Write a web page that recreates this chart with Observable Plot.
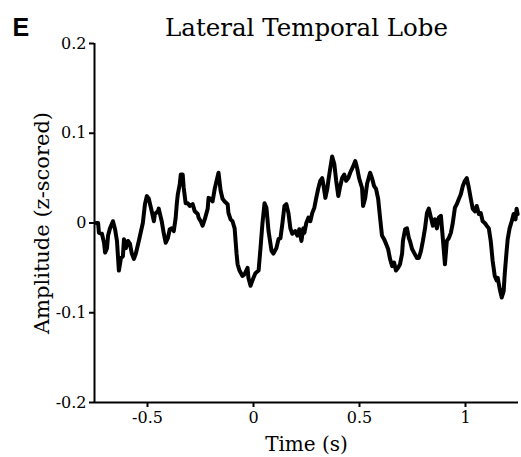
<!DOCTYPE html>
<html>
<head>
<meta charset="utf-8">
<script src="https://cdn.jsdelivr.net/npm/d3@7"></script>
<script src="https://cdn.jsdelivr.net/npm/@observablehq/plot@0.6"></script>
<style>
  body { margin: 0; background: #fff; }
</style>
</head>
<body>
<div id="chart"></div>
<script>
// Averaged evoked response, lateral temporal lobe (time in s, z-scored amplitude)
const time = [
  -0.743, -0.733, -0.729, -0.715, -0.705, -0.700, -0.691, -0.686, -0.677, -0.663,
  -0.653, -0.644, -0.635, -0.625, -0.616, -0.611, -0.602, -0.592, -0.583, -0.574,
  -0.564, -0.555, -0.541, -0.522, -0.512, -0.503, -0.494, -0.480, -0.470, -0.465,
  -0.451, -0.447, -0.433, -0.423, -0.414, -0.404, -0.395, -0.386, -0.376, -0.367,
  -0.362, -0.357, -0.348, -0.343, -0.334, -0.329, -0.320, -0.310, -0.301, -0.287,
  -0.277, -0.263, -0.259, -0.249, -0.240, -0.230, -0.216, -0.212, -0.202, -0.193,
  -0.183, -0.174, -0.165, -0.155, -0.146, -0.136, -0.122, -0.118, -0.108, -0.099,
  -0.089, -0.080, -0.075, -0.066, -0.052, -0.042, -0.028, -0.024, -0.014, -0.005,
  0.000, 0.009, 0.024, 0.033, 0.042, 0.052, 0.061, 0.071, 0.085, 0.094,
  0.108, 0.118, 0.127, 0.136, 0.146, 0.155, 0.165, 0.174, 0.183, 0.197,
  0.207, 0.216, 0.226, 0.235, 0.240, 0.249, 0.259, 0.268, 0.277, 0.287,
  0.296, 0.306, 0.315, 0.324, 0.329, 0.339, 0.348, 0.353, 0.362, 0.371,
  0.381, 0.390, 0.400, 0.409, 0.418, 0.428, 0.437, 0.447, 0.456, 0.470,
  0.480, 0.489, 0.498, 0.512, 0.517, 0.527, 0.536, 0.550, 0.559, 0.569,
  0.578, 0.588, 0.597, 0.606, 0.616, 0.625, 0.635, 0.644, 0.654, 0.663,
  0.672, 0.682, 0.691, 0.701, 0.705, 0.715, 0.724, 0.733, 0.738, 0.748,
  0.757, 0.771, 0.780, 0.790, 0.799, 0.809, 0.818, 0.827, 0.837, 0.846,
  0.856, 0.865, 0.874, 0.884, 0.893, 0.903, 0.912, 0.921, 0.931, 0.940,
  0.950, 0.959, 0.969, 0.978, 0.987, 0.997, 1.006, 1.016, 1.025, 1.034,
  1.044, 1.053, 1.063, 1.072, 1.081, 1.091, 1.100, 1.110, 1.119, 1.128,
  1.138, 1.147, 1.152, 1.161, 1.171, 1.180, 1.185, 1.194, 1.199, 1.208,
  1.218, 1.227, 1.236, 1.241, 1.246
];
const amplitude = [
  0.000, 0.000, -0.011, -0.012, -0.022, -0.033, -0.028, -0.014, -0.006, 0.002,
  -0.007, -0.020, -0.053, -0.039, -0.037, -0.018, -0.028, -0.020, -0.023, -0.034,
  -0.040, -0.034, -0.020, 0.000, 0.021, 0.030, 0.027, 0.013, 0.002, 0.010,
  0.013, 0.016, 0.002, -0.012, -0.022, -0.017, -0.007, -0.006, -0.009, 0.006,
  0.021, 0.032, 0.043, 0.054, 0.054, 0.039, 0.022, 0.022, 0.019, 0.021,
  0.013, 0.010, 0.006, 0.002, -0.003, 0.004, 0.016, 0.028, 0.027, 0.024,
  0.038, 0.047, 0.056, 0.036, 0.027, 0.024, 0.021, 0.011, 0.004, 0.002,
  -0.006, -0.034, -0.046, -0.053, -0.059, -0.057, -0.050, -0.061, -0.070, -0.064,
  -0.061, -0.056, -0.053, -0.028, -0.001, 0.022, 0.017, -0.009, -0.031, -0.034,
  -0.028, -0.018, -0.017, -0.001, 0.019, 0.021, 0.011, -0.006, -0.012, -0.009,
  -0.014, -0.007, -0.020, -0.006, -0.011, 0.000, 0.006, 0.002, 0.011, 0.017,
  0.028, 0.039, 0.047, 0.050, 0.044, 0.028, 0.038, 0.047, 0.061, 0.074,
  0.066, 0.047, 0.030, 0.041, 0.050, 0.054, 0.047, 0.050, 0.056, 0.063,
  0.069, 0.061, 0.050, 0.039, 0.019, 0.028, 0.044, 0.056, 0.050, 0.041,
  0.038, 0.027, 0.006, -0.014, -0.018, -0.023, -0.029, -0.040, -0.048, -0.044,
  -0.053, -0.050, -0.046, -0.034, -0.020, -0.007, -0.006, -0.017, -0.020, -0.029,
  -0.033, -0.039, -0.039, -0.031, -0.020, -0.006, 0.011, 0.016, 0.006, -0.003,
  0.004, -0.006, 0.006, 0.008, -0.017, -0.046, -0.020, -0.017, -0.011, 0.000,
  0.017, 0.021, 0.027, 0.032, 0.041, 0.047, 0.050, 0.039, 0.027, 0.016,
  0.013, 0.019, 0.010, 0.011, 0.002, 0.000, -0.003, -0.006, -0.020, -0.042,
  -0.059, -0.064, -0.061, -0.073, -0.083, -0.076, -0.057, -0.031, -0.018, -0.006,
  0.002, 0.010, 0.004, 0.016, 0.010
];

const xTicks = [-0.5, 0, 0.5, 1];
const yTicks = [-0.2, -0.1, 0, 0.1, 0.2];
const xDomain = [-0.75, 1.25];
const yDomain = [-0.2, 0.2];

const panelLetter = "E";
const titleText = "Lateral Temporal Lobe";
const xLabel = "Time (s)";
const yLabel = "Amplitude (z-scored)";

const series = time.map((t, i) => ({t, v: amplitude[i]}));
const serif = "'DejaVu Serif', serif";

const chart = Plot.plot({
  width: 521,
  height: 457,
  marginLeft: 94,
  marginRight: 3,
  marginTop: 43,
  marginBottom: 55,
  x: {domain: xDomain},
  y: {domain: yDomain},
  style: {fontFamily: serif, fontSize: "16px", color: "#000", background: "#fff", overflow: "visible"},
  marks: [
    Plot.axisX({ticks: xTicks, tickSize: 5, tickPadding: 4, tickFormat: d => String(d),
      label: null, fontSize: 16, strokeWidth: 2}),
    Plot.axisY({ticks: yTicks, tickSize: 5, tickPadding: 3, tickFormat: d => String(d),
      label: null, fontSize: 16, strokeWidth: 2}),
    Plot.ruleX([xDomain[0]], {strokeWidth: 2}),
    Plot.ruleY([yDomain[0]], {strokeWidth: 2}),
    Plot.line(series, {x: "t", y: "v", strokeWidth: 4, strokeLinejoin: "round"}),
    Plot.text([titleText], {text: d => d, frameAnchor: "top", dy: -8, lineAnchor: "bottom",
      fontSize: 24.5, fontFamily: serif}),
    Plot.text([panelLetter], {text: d => d, frameAnchor: "top-left", dx: -82, dy: -8,
      lineAnchor: "bottom", textAnchor: "start", fontSize: 25, fontWeight: "bold",
      fontFamily: "'Liberation Sans', Arial, sans-serif"}),
    Plot.text([xLabel], {text: d => d, frameAnchor: "bottom", dy: 48, lineAnchor: "bottom",
      fontSize: 20, fontFamily: serif}),
    Plot.text([yLabel], {text: d => d, frameAnchor: "left", dx: -52, rotate: -90,
      textAnchor: "middle", lineAnchor: "middle", fontSize: 21, fontFamily: serif})
  ]
});

document.getElementById("chart").appendChild(chart);
</script>
</body>
</html>
